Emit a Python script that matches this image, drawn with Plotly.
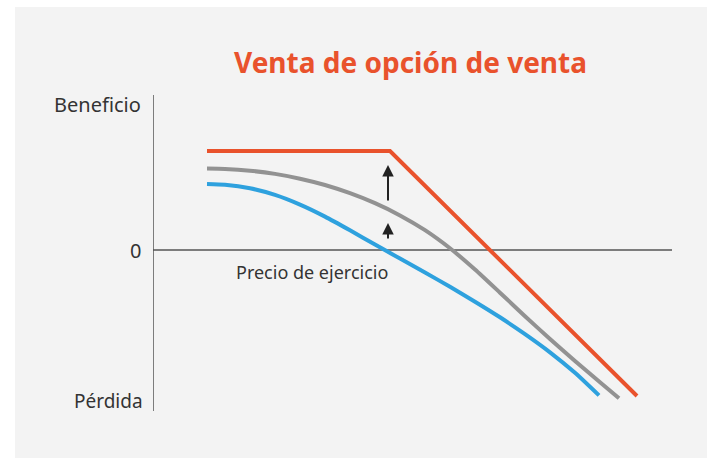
import plotly.graph_objects as go

# Data (price on x, profit on y; origin where the axes cross)
red_price = [54, 237, 484]
red_profit = [99, 99, -146]

gray_price = [54, 72, 97, 122, 147, 172, 197, 222, 247, 272, 297, 322, 347,
              372, 397, 422, 447, 466]
gray_profit = [81.5, 81.1, 79.3, 76.1, 71.3, 65.0, 56.8, 46.8, 34.6, 19.8, 1.7,
               -19.5, -42.7, -66.2, -89.0, -110.9, -132.2, -148.3]

blue_price = [54, 72, 97, 122, 147, 172, 197, 222, 247, 272, 297, 322, 347,
              372, 397, 422, 446]
blue_profit = [66, 65.2, 61.7, 55.1, 45.4, 33.4, 19.7, 5.4, -8.6, -22.5, -36.8,
               -51.7, -67.3, -84.1, -102.3, -122.8, -145.4]

strike = 235
arrow_big = (48, 85)
arrow_small = (10, 27)

title = "Venta de opción de venta"
label_top = "Beneficio"
label_zero = "0"
label_bottom = "Pérdida"
label_x = "Precio"
label_strike = "Precio de ejercicio"

X0, X1 = 0, 519
Y0, Y1 = -161, 155

RED = "#e9522c"
GRAY = "#929292"
BLUE = "#2ea1de"
TXT = "#333333"
FONT = "Noto Sans"

fig = go.Figure()
fig.add_trace(go.Scatter(x=blue_price, y=blue_profit, mode="lines",
                         line=dict(color=BLUE, width=4, shape="spline", smoothing=0.6),
                         hoverinfo="skip"))
fig.add_trace(go.Scatter(x=gray_price, y=gray_profit, mode="lines",
                         line=dict(color=GRAY, width=4, shape="spline", smoothing=0.6),
                         hoverinfo="skip"))
fig.add_trace(go.Scatter(x=red_price, y=red_profit, mode="lines",
                         line=dict(color=RED, width=4),
                         hoverinfo="skip"))

def px_x(p):
    return (p - 153) / 519

def px_y(p):
    return (411 - p) / 316

shapes = [
    dict(type="rect", xref="paper", yref="paper", x0=px_x(15), x1=px_x(707),
         y0=px_y(458), y1=px_y(7),
         fillcolor="#f3f3f3", line=dict(width=0), layer="below"),
    dict(type="line", xref="x", yref="y", x0=0, x1=0, y0=Y0, y1=Y1,
         line=dict(color="#555555", width=1.5), layer="below"),
    dict(type="line", xref="x", yref="y", x0=0, x1=X1, y0=0, y1=0,
         line=dict(color="#555555", width=1.5), layer="below"),
]

annotations = [
    dict(text=f"<b>{title}</b>", xref="paper", yref="paper",
         x=px_x(410), y=px_y(62), xanchor="center", yanchor="middle",
         showarrow=False, font=dict(family=FONT, size=28, color=RED)),
    dict(text=label_top, xref="paper", yref="y", x=px_x(143), y=146,
         xanchor="right", yanchor="middle",
         showarrow=False, font=dict(family=FONT, size=20, color=TXT)),
    dict(text=label_zero, xref="paper", yref="y", x=px_x(143), y=0,
         xanchor="right", yanchor="middle",
         showarrow=False, font=dict(family=FONT, size=20, color=TXT)),
    dict(text=label_bottom, xref="paper", yref="y", x=px_x(145), y=-151,
         xanchor="right", yanchor="middle",
         showarrow=False, font=dict(family=FONT, size=19, color=TXT)),
    dict(text=label_x, xref="x", yref="y", x=X1 + 1, y=15, xanchor="right", yanchor="middle",
         showarrow=False, font=dict(family=FONT, size=20, color=TXT)),
    dict(text=label_strike, xref="x", yref="y", x=159, y=-22, xanchor="center", yanchor="middle",
         showarrow=False, font=dict(family=FONT, size=18, color=TXT)),
    dict(x=strike, y=arrow_big[1], ax=strike, ay=arrow_big[0], xref="x", yref="y",
         axref="x", ayref="y", text="", showarrow=True, arrowhead=2, arrowsize=1.15,
         arrowwidth=2, arrowcolor="#222222"),
    dict(x=strike, y=arrow_small[1], ax=strike, ay=arrow_small[0], xref="x", yref="y",
         axref="x", ayref="y", text="", showarrow=True, arrowhead=2, arrowsize=1.15,
         arrowwidth=2, arrowcolor="#222222"),
]

fig.update_layout(
    width=707, height=458,
    margin=dict(l=153, r=35, t=95, b=47),
    paper_bgcolor="white", plot_bgcolor="rgba(0,0,0,0)",
    showlegend=False,
    xaxis=dict(range=[X0, X1], visible=False, fixedrange=True),
    yaxis=dict(range=[Y0, Y1], visible=False, fixedrange=True),
    shapes=shapes, annotations=annotations,
)

fig.write_html("out.html", post_script="document.body.style.margin='0';",
               config={"displayModeBar": False})
